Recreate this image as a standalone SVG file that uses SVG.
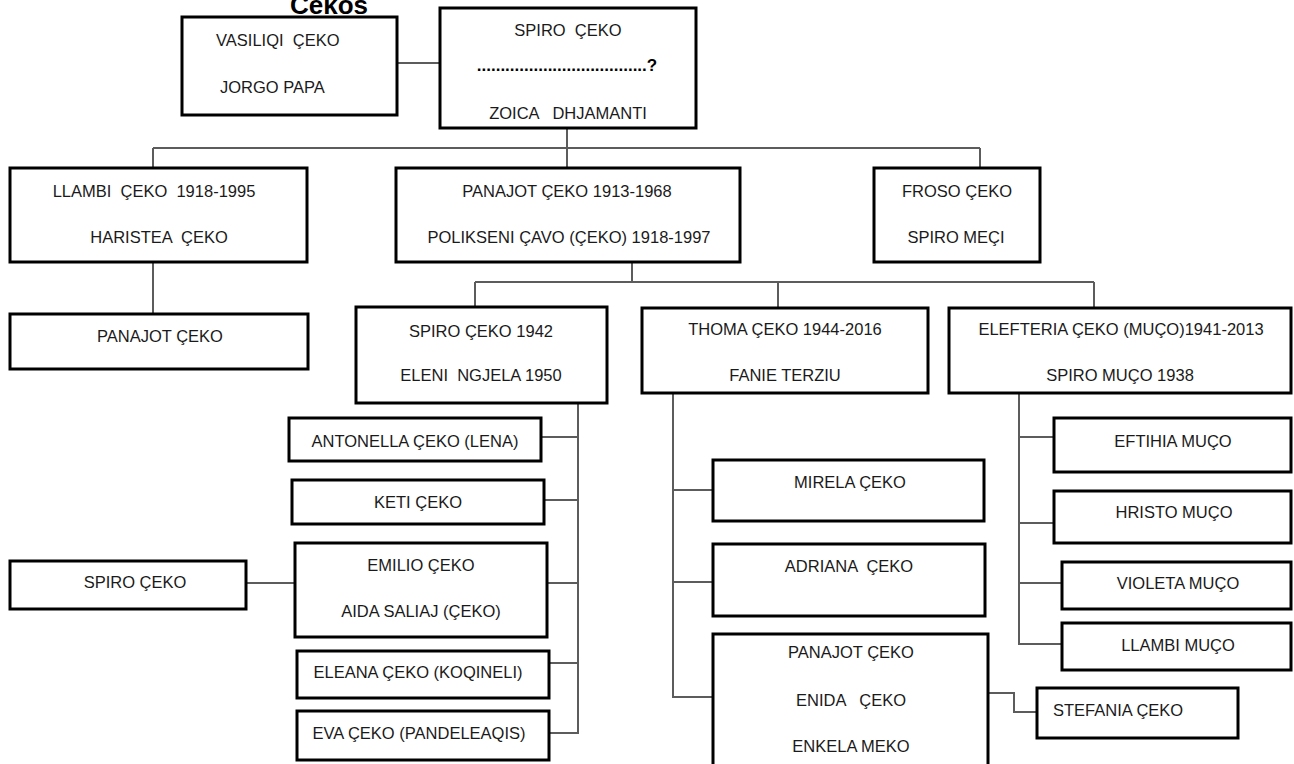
<svg xmlns="http://www.w3.org/2000/svg" width="1294" height="764" viewBox="0 0 1294 764">
  <style>
    .box { fill: #ffffff; stroke: #000000; stroke-width: 3; }
    .link { fill: none; stroke: #5c5c5c; stroke-width: 2; }
    text { font-family: "Liberation Sans", Arial, sans-serif; font-size: 16.5px; fill: #1a1a1a; white-space: pre; }
    .c { text-anchor: middle; }
    .title { font-size: 26px; font-weight: bold; fill: #000000; }
    .dots { font-size: 17px; font-weight: bold; fill: #000000; }
  </style>
  <rect width="1294" height="764" fill="#ffffff"/>

  <text class="title" x="290" y="14">Cekos</text>

  <!-- connectors -->
  <g id="connectors">
    <path class="link" d="M397 63 H440"/>
    <path class="link" d="M567 128 V168"/>
    <path class="link" d="M153 148 H980"/>
    <path class="link" d="M153 148 V168"/>
    <path class="link" d="M980 148 V168"/>
    <path class="link" d="M153 262 V314"/>
    <path class="link" d="M632 262 V282"/>
    <path class="link" d="M475 282 H1094"/>
    <path class="link" d="M475 282 V307"/>
    <path class="link" d="M778 282 V308"/>
    <path class="link" d="M1094 282 V308"/>
    <!-- children of Spiro 1942 -->
    <path class="link" d="M578 403 V733 H549"/>
    <path class="link" d="M541 437 H578"/>
    <path class="link" d="M544 500 H578"/>
    <path class="link" d="M547 583 H578"/>
    <path class="link" d="M549 663 H578"/>
    <path class="link" d="M246 583 H295"/>
    <!-- children of Thoma -->
    <path class="link" d="M673 393 V697 H713"/>
    <path class="link" d="M673 490 H713"/>
    <path class="link" d="M673 582 H713"/>
    <path class="link" d="M988 693 H1014 V712 H1037"/>
    <!-- children of Elefteria -->
    <path class="link" d="M1019 393 V644 H1062"/>
    <path class="link" d="M1019 437 H1054"/>
    <path class="link" d="M1019 523 H1054"/>
    <path class="link" d="M1019 583 H1062"/>
  </g>

  <g id="vasiliqi">
    <rect class="box" x="182" y="17" width="215" height="98"/>
    <text x="216" y="46">VASILIQI  ÇEKO</text>
    <text x="220" y="93">JORGO PAPA</text>
  </g>

  <g id="spiro-top">
    <rect class="box" x="440" y="8" width="256" height="120"/>
    <text class="c" x="568" y="36">SPIRO  ÇEKO</text>
    <text class="c dots" x="567" y="71">....................................?</text>
    <text class="c" x="568" y="119">ZOICA   DHJAMANTI</text>
  </g>

  <g id="llambi">
    <rect class="box" x="10" y="168" width="297" height="94"/>
    <text class="c" x="154" y="197">LLAMBI  ÇEKO  1918-1995</text>
    <text class="c" x="159" y="243">HARISTEA  ÇEKO</text>
  </g>

  <g id="panajot">
    <rect class="box" x="396" y="168" width="344" height="94"/>
    <text class="c" x="567" y="197">PANAJOT ÇEKO 1913-1968</text>
    <text class="c" x="569" y="243">POLIKSENI ÇAVO (ÇEKO) 1918-1997</text>
  </g>

  <g id="froso">
    <rect class="box" x="874" y="168" width="166" height="94"/>
    <text class="c" x="957" y="197">FROSO ÇEKO</text>
    <text class="c" x="956" y="243">SPIRO MEÇI</text>
  </g>

  <g id="panajot-llambi">
    <rect class="box" x="10" y="314" width="298" height="55"/>
    <text class="c" x="160" y="342">PANAJOT ÇEKO</text>
  </g>

  <g id="spiro-1942">
    <rect class="box" x="356" y="307" width="251" height="96"/>
    <text class="c" x="481" y="337">SPIRO ÇEKO 1942</text>
    <text class="c" x="481" y="381">ELENI  NGJELA 1950</text>
  </g>

  <g id="thoma">
    <rect class="box" x="642" y="308" width="286" height="85"/>
    <text class="c" x="785" y="335">THOMA ÇEKO 1944-2016</text>
    <text class="c" x="785" y="381">FANIE TERZIU</text>
  </g>

  <g id="elefteria">
    <rect class="box" x="949" y="308" width="342" height="85"/>
    <text class="c" x="1121" y="335">ELEFTERIA ÇEKO (MUÇO)1941-2013</text>
    <text class="c" x="1120" y="381">SPIRO MUÇO 1938</text>
  </g>

  <g id="antonella">
    <rect class="box" x="289" y="418" width="252" height="43"/>
    <text class="c" x="415" y="447">ANTONELLA ÇEKO (LENA)</text>
  </g>

  <g id="keti">
    <rect class="box" x="292" y="480" width="252" height="44"/>
    <text class="c" x="418" y="508">KETI ÇEKO</text>
  </g>

  <g id="emilio">
    <rect class="box" x="295" y="543" width="252" height="94"/>
    <text class="c" x="421" y="571">EMILIO ÇEKO</text>
    <text class="c" x="421" y="617">AIDA SALIAJ (ÇEKO)</text>
  </g>

  <g id="spiro-emilio">
    <rect class="box" x="10" y="561" width="236" height="48"/>
    <text class="c" x="135" y="588">SPIRO ÇEKO</text>
  </g>

  <g id="eleana">
    <rect class="box" x="297" y="651" width="252" height="47"/>
    <text class="c" x="418" y="678">ELEANA ÇEKO (KOQINELI)</text>
  </g>

  <g id="eva">
    <rect class="box" x="297" y="711" width="252" height="49"/>
    <text class="c" x="419" y="739">EVA ÇEKO (PANDELEAQIS)</text>
  </g>

  <g id="mirela">
    <rect class="box" x="713" y="460" width="271" height="61"/>
    <text class="c" x="850" y="488">MIRELA ÇEKO</text>
  </g>

  <g id="adriana">
    <rect class="box" x="713" y="544" width="272" height="72"/>
    <text class="c" x="849" y="572">ADRIANA  ÇEKO</text>
  </g>

  <g id="panajot-enida">
    <rect class="box" x="713" y="634" width="275" height="150"/>
    <text class="c" x="851" y="658">PANAJOT ÇEKO</text>
    <text class="c" x="851" y="706">ENIDA   ÇEKO</text>
    <text class="c" x="851" y="752">ENKELA MEKO</text>
  </g>

  <g id="stefania">
    <rect class="box" x="1037" y="688" width="201" height="50"/>
    <text x="1053" y="716">STEFANIA ÇEKO</text>
  </g>

  <g id="eftihia">
    <rect class="box" x="1054" y="418" width="237" height="54"/>
    <text class="c" x="1173" y="447">EFTIHIA MUÇO</text>
  </g>

  <g id="hristo">
    <rect class="box" x="1054" y="491" width="237" height="52"/>
    <text class="c" x="1174" y="518">HRISTO MUÇO</text>
  </g>

  <g id="violeta">
    <rect class="box" x="1062" y="562" width="229" height="47"/>
    <text class="c" x="1178" y="589">VIOLETA MUÇO</text>
  </g>

  <g id="llambi-muco">
    <rect class="box" x="1062" y="623" width="229" height="47"/>
    <text class="c" x="1178" y="651">LLAMBI MUÇO</text>
  </g>
</svg>
